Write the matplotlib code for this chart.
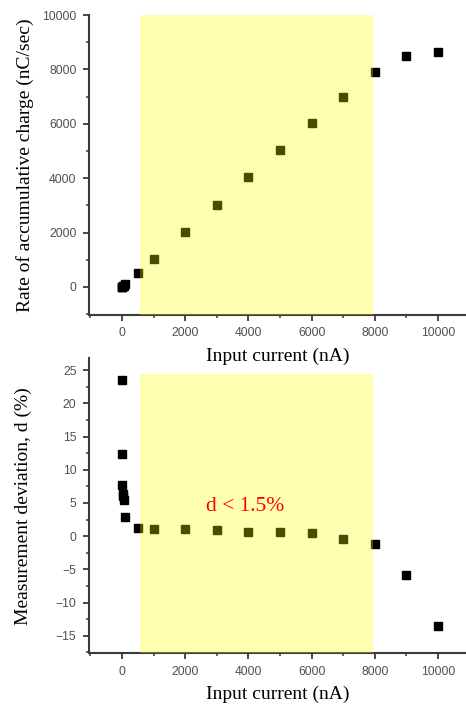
import matplotlib
matplotlib.use("Agg")
import matplotlib.pyplot as plt
from matplotlib.ticker import MultipleLocator

# ---- data ----
input_current = [1, 5, 10, 20, 30, 50, 100, 500, 1000, 2000, 3000, 4000,
                 5000, 6000, 7000, 8000, 9000, 10000]
charge_rate = [1, 6, 11, 21, 32, 53, 103, 506, 1011, 2022, 3027, 4028,
               5035, 6030, 6975, 7900, 8480, 8650]
deviation = [23.6, 12.4, 7.7, 6.4, 6.0, 5.5, 2.9, 1.3, 1.1, 1.1, 0.9, 0.7,
             0.7, 0.5, -0.4, -1.2, -5.8, -13.5]
x_ticks = [0, 2000, 4000, 6000, 8000, 10000]
y1_ticks = [0, 2000, 4000, 6000, 8000, 10000]
y2_ticks = [-15, -10, -5, 0, 5, 10, 15, 20, 25]
linear_range = (560, 7950)
band_ylim2 = (-17.6, 24.4)
annot_text = "d < 1.5%"

W, H = 466, 705
fig = plt.figure(figsize=(W / 100, H / 100), dpi=100)

serif = "Liberation Serif"
sans = "Liberation Sans"
tick_color = "#505050"
spine_color = "#3a3a3a"
shade = dict(color=(1.0, 1.0, 0.0), alpha=0.3, lw=0, zorder=5)

def style(ax, yt, yminor):
    for s in ("top", "right"):
        ax.spines[s].set_visible(False)
    for s in ("left", "bottom"):
        ax.spines[s].set_color(spine_color)
        ax.spines[s].set_linewidth(1.5)
    ax.set_xticks(x_ticks)
    ax.xaxis.set_minor_locator(MultipleLocator(1000))
    ax.set_yticks(yt)
    ax.yaxis.set_minor_locator(MultipleLocator(yminor))
    ax.tick_params(which="major", direction="out", length=4, width=1.3,
                   color=spine_color, labelsize=8.8, labelcolor=tick_color, pad=5)
    ax.tick_params(which="minor", direction="out", length=2, width=1.1,
                   color=spine_color)
    for lab in ax.get_xticklabels() + ax.get_yticklabels():
        lab.set_family(sans)

# top panel
ax1 = fig.add_axes([89 / W, 1 - 315 / H, 1 - 89 / W, (315 - 15) / H])
ax1.plot(input_current, charge_rate, "s", color="black", ms=5.5, zorder=3)
ax1.axvspan(*linear_range, **shade)
ax1.set_xlim(-1044, 10886)
ax1.set_ylim(-1030, 10000)
style(ax1, y1_ticks, 1000)
ax1.set_xlabel("Input current (nA)", family=serif, fontsize=14, labelpad=6)
ax1.set_ylabel("Rate of accumulative charge (nC/sec)", family=serif,
               fontsize=14)
ax1.yaxis.set_label_coords(-0.146, 0.5)

# bottom panel
ax2 = fig.add_axes([89 / W, 1 - 653.3 / H, 1 - 89 / W, (653.3 - 358) / H])
ax2.patch.set_alpha(0)
ax2.plot(input_current, deviation, "s", color="black", ms=5.5, zorder=3)
ax2.fill_between(list(linear_range), band_ylim2[0], band_ylim2[1], **shade)
ax2.set_xlim(-1044, 10886)
ax2.set_ylim(-17.65, 26.85)
style(ax2, y2_ticks, 2.5)
ax2.set_xlabel("Input current (nA)", family=serif, fontsize=14, labelpad=6)
ax2.set_ylabel("Measurement deviation, d (%)", family=serif, fontsize=14)
ax2.yaxis.set_label_coords(-0.151, 0.5)
ax2.text(3900, 4.5, annot_text, color="red", family=serif, fontsize=15.5,
         ha="center", va="center", zorder=6)

fig.savefig("out.png", dpi=100)
